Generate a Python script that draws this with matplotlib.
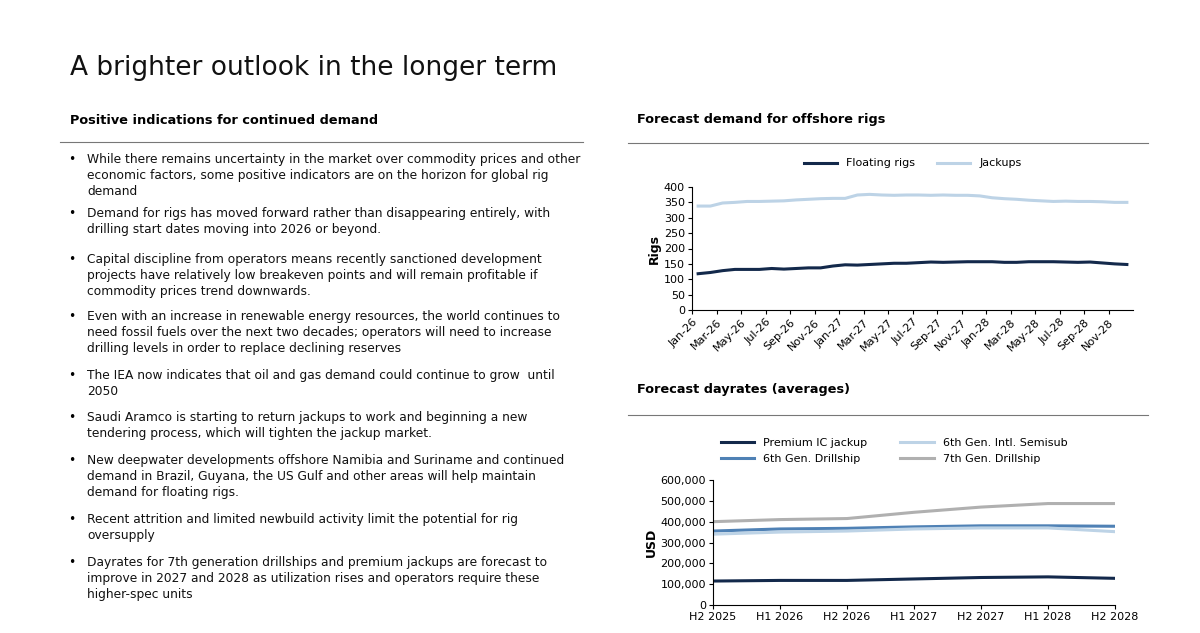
import matplotlib
matplotlib.use("Agg")
import matplotlib.pyplot as plt
from matplotlib.lines import Line2D

months = [f"{m}-{y}" for y in ("26", "27", "28") for m in
          ["Jan","Feb","Mar","Apr","May","Jun","Jul","Aug","Sep","Oct","Nov","Dec"]]
jackups = [338,338,348,350,353,353,354,355,358,360,362,363,363,374,376,374,373,374,
           374,373,374,373,373,371,365,362,360,357,355,353,354,353,353,352,350,350]
floating = [118,122,128,132,132,132,135,133,135,137,137,143,147,146,148,150,152,152,
            154,156,155,156,157,157,157,155,155,157,157,157,156,155,156,153,150,148]

halves = ["H2 2025","H1 2026","H2 2026","H1 2027","H2 2027","H1 2028","H2 2028"]
premium = [115000,118000,118000,125000,132000,135000,128000]
semisub = [340000,350000,355000,365000,370000,370000,352000]
drill6 = [355000,365000,368000,375000,380000,380000,378000]
drill7 = [400000,410000,415000,445000,470000,487000,487000]

bullets = [
 "While there remains uncertainty in the market over commodity prices and other\neconomic factors, some positive indicators are on the horizon for global rig\ndemand",
 "Demand for rigs has moved forward rather than disappearing entirely, with\ndrilling start dates moving into 2026 or beyond.",
 "Capital discipline from operators means recently sanctioned development\nprojects have relatively low breakeven points and will remain profitable if\ncommodity prices trend downwards.",
 "Even with an increase in renewable energy resources, the world continues to\nneed fossil fuels over the next two decades; operators will need to increase\ndrilling levels in order to replace declining reserves",
 "The IEA now indicates that oil and gas demand could continue to grow  until\n2050",
 "Saudi Aramco is starting to return jackups to work and beginning a new\ntendering process, which will tighten the jackup market.",
 "New deepwater developments offshore Namibia and Suriname and continued\ndemand in Brazil, Guyana, the US Gulf and other areas will help maintain\ndemand for floating rigs.",
 "Recent attrition and limited newbuild activity limit the potential for rig\noversupply",
 "Dayrates for 7th generation drillships and premium jackups are forecast to\nimprove in 2027 and 2028 as utilization rises and operators require these\nhigher-spec units",
]
bullet_y = [153, 207, 253, 310, 369, 411, 454, 513, 556]

W, H = 1200, 633
fig = plt.figure(figsize=(12, 6.33), dpi=100)
fig.patch.set_facecolor("white")
def fx(x): return x / W
def fy(y): return 1 - y / H

fig.text(fx(70), fy(68), "A brighter outlook in the longer term", fontsize=19, va="center", color="#111")
fig.text(fx(70), fy(120), "Positive indications for continued demand", fontsize=9.3, fontweight="bold", va="center")
fig.text(fx(637), fy(120), "Forecast demand for offshore rigs", fontsize=9.3, fontweight="bold", va="center")
fig.text(fx(637), fy(390), "Forecast dayrates (averages)", fontsize=9.3, fontweight="bold", va="center")
for x0, x1, y in [(60, 583, 142), (628, 1148, 143), (628, 1148, 415)]:
    fig.add_artist(Line2D([fx(x0), fx(x1)], [fy(y), fy(y)], color="#777", lw=0.8))
for t, y in zip(bullets, bullet_y):
    fig.text(fx(68), fy(y), "•", fontsize=8.8, va="top")
    fig.text(fx(87), fy(y), t, fontsize=8.8, va="top", linespacing=1.3, color="#111")

dark = "#13294b"; light = "#bdd3e6"; mid = "#4f81b5"; grey = "#b0b0b0"

ax1 = fig.add_axes([fx(692), fy(310), fx(1133-692), (310-187)/H])
x = list(range(len(months)))
ax1.plot(x, floating, color=dark, lw=2.2, label="Floating rigs")
ax1.plot(x, jackups, color=light, lw=2.2, label="Jackups")
ax1.set_xlim(-0.5, 35.5); ax1.set_ylim(0, 400)
ax1.set_yticks(range(0, 401, 50))
ax1.set_xticks([i - 0.5 for i in range(0, 36, 2)])
ax1.set_xticklabels(months[::2], rotation=45, ha="right", rotation_mode="anchor")
ax1.set_ylabel("Rigs", fontsize=9, fontweight="bold", labelpad=2)
ax1.tick_params(labelsize=8, length=3, pad=2)
for s in ["top", "right"]: ax1.spines[s].set_visible(False)
ax1.legend(loc="lower center", bbox_to_anchor=(0.5, 1.07), ncol=2, frameon=False, fontsize=8, handlelength=3)

ax2 = fig.add_axes([fx(713), fy(605), fx(1115-713), (605-480)/H])
x2 = list(range(len(halves)))
ax2.plot(x2, premium, color=dark, lw=2.2, label="Premium IC jackup")
ax2.plot(x2, drill6, color=mid, lw=2.2, label="6th Gen. Drillship")
ax2.plot(x2, semisub, color=light, lw=2.2, label="6th Gen. Intl. Semisub")
ax2.plot(x2, drill7, color=grey, lw=2.2, label="7th Gen. Drillship")
ax2.set_xlim(0, 6); ax2.set_ylim(0, 600000)
ax2.set_yticks(range(0, 600001, 100000))
ax2.set_xticks(x2); ax2.set_xticklabels(halves)
ax2.yaxis.set_major_formatter(matplotlib.ticker.FuncFormatter(lambda v, p: f"{int(v):,}"))
ax2.set_ylabel("USD", fontsize=9, fontweight="bold", labelpad=2)
ax2.tick_params(labelsize=8, length=3, pad=2)
for s in ["top", "right"]: ax2.spines[s].set_visible(False)
ax2.legend(loc="lower center", bbox_to_anchor=(0.45, 1.05), ncol=2, frameon=False, fontsize=8, handlelength=3, columnspacing=3)

fig.savefig("out.png", dpi=100)
